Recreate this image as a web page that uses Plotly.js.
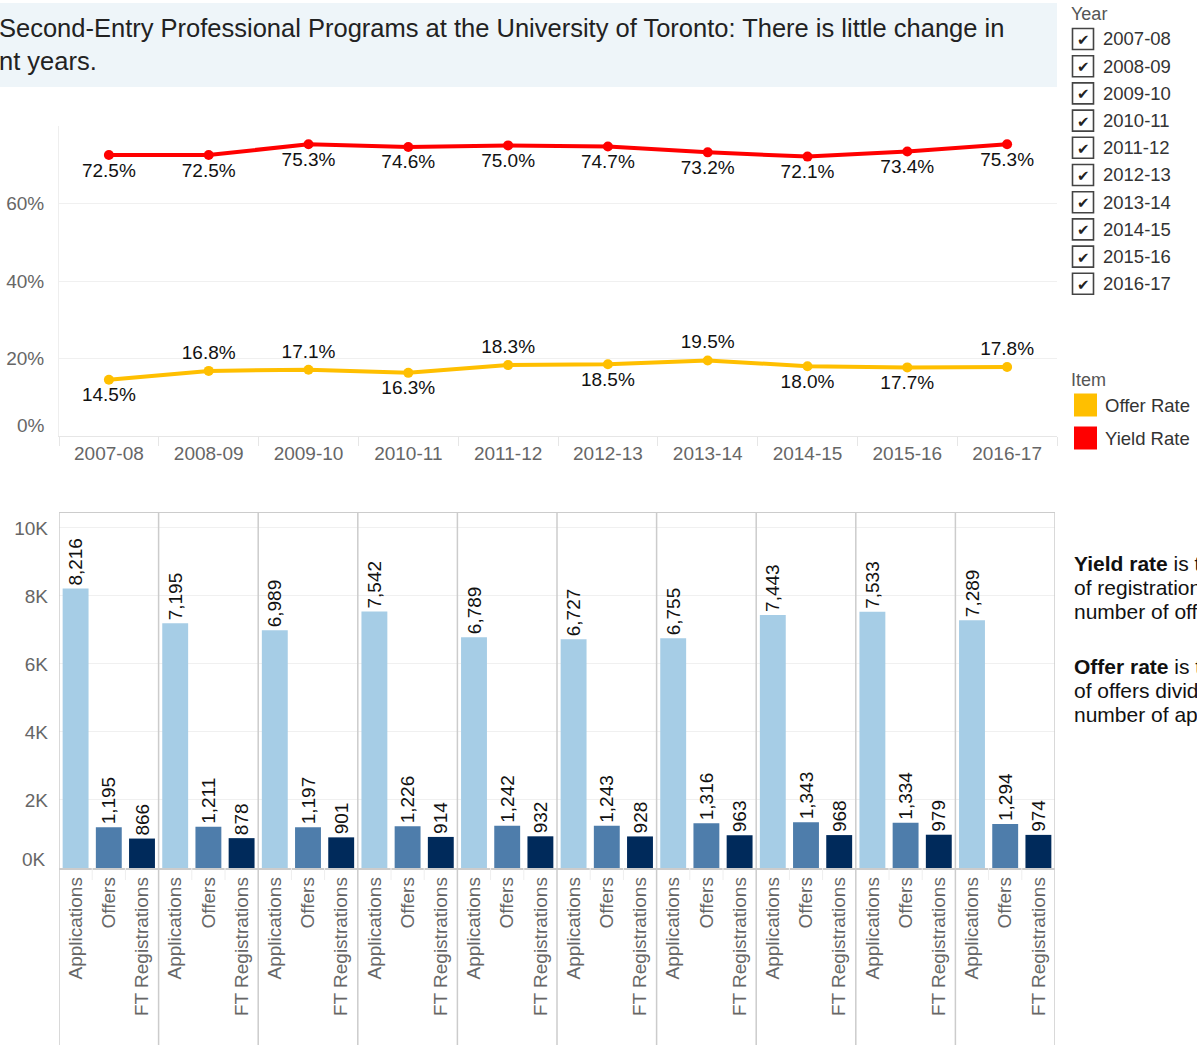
<!DOCTYPE html>
<html>
<head>
<meta charset="utf-8">
<script src="https://cdn.plot.ly/plotly-3.0.1.min.js"></script>
<style>
html,body{margin:0;padding:0;overflow:hidden;background:#fff;}
#chart{width:1197px;height:1045px;}
</style>
</head>
<body>
<div id="chart"></div>
<script>
// ---- data ----
const years = ['2007-08','2008-09','2009-10','2010-11','2011-12','2012-13','2013-14','2014-15','2015-16','2016-17'];
const yieldRate = [72.5,72.5,75.3,74.6,75.0,74.7,73.2,72.1,73.4,75.3];
const offerRate = [14.5,16.8,17.1,16.3,18.3,18.5,19.5,18.0,17.7,17.8];
const items = ['Applications','Offers','FT Registrations'];
const applications = [8216,7195,6989,7542,6789,6727,6755,7443,7533,7289];
const offers = [1195,1211,1197,1226,1242,1243,1316,1343,1334,1294];
const registrations = [866,878,901,914,932,928,963,968,979,974];
const pctTicks = [0,20,40,60,80];
const pctTickText = ['','20%','40%','60%',''];
const kTicks = [0,2000,4000,6000,8000,10000];
const kTickText = ['','2K','4K','6K','8K','10K'];
const yieldNote = ['<b>Yield rate</b> is t','of registration','number of offe'];
const offerNote = ['<b>Offer rate</b> is t','of offers divid','number of ap'];

// ---- styles ----
const W = 1197, H = 1045;
const FONT = 'Liberation Sans, Arial, sans-serif';
const px = x => x / W;
const py = y => 1 - y / H;
const yieldColor = '#ff0000';
const offerColor = '#ffbf00';
const itemColors = ['#a6cde6','#4e7dab','#002a5b'];
const offerTextPos = ['bottom center','top center','top center','bottom center','top center','bottom center','top center','bottom center','bottom center','top center'];
const yieldTextPos = years.map(() => 'bottom center');

const traces = [];
traces.push({
  type:'scatter', mode:'lines+markers+text', x:years, y:yieldRate, xaxis:'x', yaxis:'y',
  line:{color:yieldColor,width:4}, marker:{color:yieldColor,size:10},
  texttemplate:'%{y:.1f}%', textposition:yieldTextPos,
  textfont:{family:FONT,size:19,color:'#111'}, cliponaxis:false, hoverinfo:'skip'
});
traces.push({
  type:'scatter', mode:'lines+markers+text', x:years, y:offerRate, xaxis:'x', yaxis:'y',
  line:{color:offerColor,width:4}, marker:{color:offerColor,size:10},
  texttemplate:'%{y:.1f}%', textposition:offerTextPos,
  textfont:{family:FONT,size:19,color:'#111'}, cliponaxis:false, hoverinfo:'skip'
});

const series = [applications, offers, registrations];
const tickvals = [], ticktext = [];
years.forEach((yr, i) => items.forEach((it, j) => { tickvals.push(i*3+j); ticktext.push(it); }));
series.forEach((vals, j) => {
  traces.push({
    type:'bar', x: vals.map((v,i) => i*3+j), y: vals, xaxis:'x2', yaxis:'y2',
    width:0.78, marker:{color:itemColors[j]},
    texttemplate:'%{y:,}', textposition:'outside', textangle:-90, constraintext:'none',
    textfont:{family:FONT,size:19,color:'#111'}, cliponaxis:false, hoverinfo:'skip'
  });
});

const shapes = [];
const annotations = [];
// title band
shapes.push({type:'rect',xref:'paper',yref:'paper',x0:px(0),x1:px(1057),y0:py(3),y1:py(87),fillcolor:'#eef5f9',line:{width:0},layer:'below'});
annotations.push({xref:'paper',yref:'paper',x:px(-3),y:py(44),xanchor:'left',yanchor:'middle',align:'left',showarrow:false,
  text:'Second-Entry Professional Programs at the University of Toronto: There is little change in<br>nt years.',
  font:{family:FONT,size:25.5,color:'#222'}});

// bottom tick labels drawn just above their gridline (as in the source)
annotations.push({xref:'paper',yref:'paper',x:px(47),y:py(425),xanchor:'right',yanchor:'middle',showarrow:false,text:'0%',font:{family:FONT,size:19,color:'#666'}});
annotations.push({xref:'paper',yref:'paper',x:px(48),y:py(859),xanchor:'right',yanchor:'middle',showarrow:false,text:'0K',font:{family:FONT,size:19,color:'#666'}});

// panel separators in bottom chart
for (let k = 0; k <= years.length; k++) {
  shapes.push({type:'line',xref:'x2',yref:'paper',x0:k*3-0.5,x1:k*3-0.5,y0:py(1045),y1:py(513),line:{color:'#cccccc',width:1.5}});
}
// faint ticks between items
for (let k = 0; k < years.length; k++) {
  [0.5,1.5].forEach(o => shapes.push({type:'line',xref:'x2',yref:'paper',x0:k*3+o,x1:k*3+o,y0:py(868),y1:py(880),line:{color:'#eeeeee',width:1}}));
}

// Year filter legend
annotations.push({xref:'paper',yref:'paper',x:px(1069),y:py(14),xanchor:'left',yanchor:'middle',showarrow:false,text:'Year',font:{family:FONT,size:18,color:'#555'}});
years.forEach((yr, i) => {
  const cy = 39 + 27.2*i;
  shapes.push({type:'rect',xref:'paper',yref:'paper',x0:px(1072.5),x1:px(1093.5),y0:py(cy-10.5),y1:py(cy+10.5),line:{color:'#444',width:1.6},fillcolor:'#fff'});
  annotations.push({xref:'paper',yref:'paper',x:px(1083),y:py(cy+1),xanchor:'center',yanchor:'middle',showarrow:false,text:'✔',font:{family:'DejaVu Sans',size:15,color:'#222'}});
  annotations.push({xref:'paper',yref:'paper',x:px(1101),y:py(cy),xanchor:'left',yanchor:'middle',showarrow:false,text:yr,font:{family:FONT,size:18.5,color:'#333'}});
});

// Item legend
annotations.push({xref:'paper',yref:'paper',x:px(1069),y:py(380),xanchor:'left',yanchor:'middle',showarrow:false,text:'Item',font:{family:FONT,size:18,color:'#555'}});
[['Offer Rate',offerColor,405],['Yield Rate',yieldColor,438]].forEach(([lab,col,cy]) => {
  shapes.push({type:'rect',xref:'paper',yref:'paper',x0:px(1074),x1:px(1097),y0:py(cy-11.5),y1:py(cy+11.5),line:{width:0},fillcolor:col});
  annotations.push({xref:'paper',yref:'paper',x:px(1103),y:py(cy),xanchor:'left',yanchor:'middle',showarrow:false,text:lab,font:{family:FONT,size:18.5,color:'#333'}});
});

// notes (the source is cropped at the right edge)
[[yieldNote,563],[offerNote,666]].forEach(([lines,y0]) => {
  lines.forEach((t, k) => annotations.push({xref:'paper',yref:'paper',x:px(1072),y:py(y0+24*k),xanchor:'left',yanchor:'middle',align:'left',showarrow:false,
    text:t,font:{family:FONT,size:21,color:'#111'}}));
});

const layout = {
  width:W, height:H, margin:{l:0,r:0,t:0,b:0}, paper_bgcolor:'#fff', plot_bgcolor:'#fff',
  showlegend:false, barmode:'overlay', font:{family:FONT,size:19,color:'#666'},
  xaxis:{domain:[px(59),px(1057)], type:'category', categoryorder:'array', categoryarray:years, range:[-0.5,9.5],
    tickfont:{family:FONT,size:19,color:'#666'}, ticks:'outside', tickson:'boundaries', ticklen:9, tickcolor:'#e6e6e6',
    showline:true, linecolor:'#e6e6e6', linewidth:1, showgrid:false, zeroline:false, fixedrange:true},
  yaxis:{domain:[py(436),py(126)], range:[0,80], tickvals:pctTicks, ticktext:pctTickText,
    tickfont:{family:FONT,size:19,color:'#666'}, ticks:'', gridcolor:'#f0f0f0', gridwidth:1,
    showline:true, linecolor:'#eeeeee', zeroline:false, ticklabelstandoff:10, fixedrange:true},
  xaxis2:{domain:[px(59),px(1055)], anchor:'y2', range:[-0.5, years.length*3-0.5], tickmode:'array', tickvals:tickvals, ticktext:ticktext,
    tickangle:-90, tickfont:{family:FONT,size:19,color:'#666'}, ticks:'', showline:true, mirror:true, linecolor:'#cccccc', linewidth:1.5,
    showgrid:false, zeroline:false, fixedrange:true},
  yaxis2:{domain:[py(868),py(513)], anchor:'x2', range:[0,10440], tickvals:kTicks, ticktext:kTickText,
    tickfont:{family:FONT,size:19,color:'#666'}, ticks:'', gridcolor:'#f0f0f0', gridwidth:1, zeroline:false,
    showline:false, ticklabelstandoff:10, fixedrange:true},
  shapes:shapes, annotations:annotations
};
Plotly.newPlot('chart', traces, layout, {staticPlot:true, displayModeBar:false});
</script>
</body>
</html>
